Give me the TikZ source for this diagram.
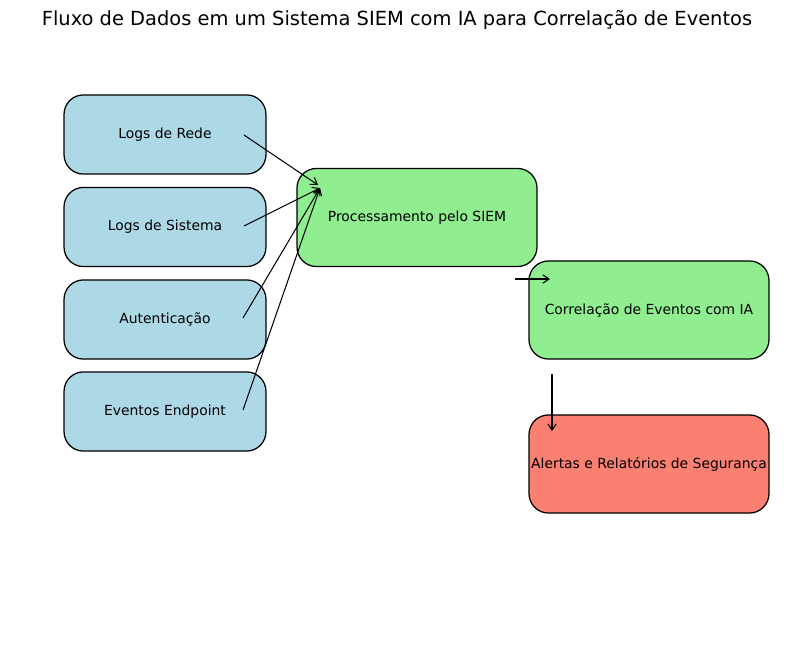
\documentclass[tikz,border=0pt]{standalone}
\usepackage{fontspec}
\setmainfont{DejaVu Sans}
\usetikzlibrary{arrows.meta}
\definecolor{lblue}{HTML}{ADD8E6}
\definecolor{lgreen}{HTML}{90EE90}
\definecolor{salmonc}{HTML}{FA8072}
\tikzset{
  box/.style={draw=black, line width=0.9pt, rounded corners=14pt, font=\fontsize{10}{12}\selectfont, inner sep=0pt, anchor=center},
  srcbox/.style={box, fill=lblue, minimum width=145.4pt, minimum height=57pt},
  bigbox/.style={box, minimum width=172.8pt, minimum height=70.6pt},
  arr/.style={-{Straight Barb[length=4.5pt,width=6pt]}, line width=0.75pt}
}
\begin{document}
\begin{tikzpicture}[x=0.72pt, y=-0.72pt]
\useasboundingbox (0,0) rectangle (794,659);
\node[font=\fontsize{14}{16}\selectfont] (title) at (397,19.5) {Fluxo de Dados em um Sistema SIEM com IA para Correlação de Eventos};
\node[srcbox] (rede) at (165,134.5) {Logs de Rede};
\node[srcbox] (sistema) at (165,227) {Logs de Sistema};
\node[srcbox] (auth) at (165,319.5) {Autenticação};
\node[srcbox] (endpoint) at (165,411.5) {Eventos Endpoint};
\node[bigbox, fill=lgreen] (siem) at (417,217.5) {Processamento pelo SIEM};
\node[bigbox, fill=lgreen] (corr) at (649,310) {Correlação de Eventos com IA};
\node[bigbox, fill=salmonc] (alert) at (649,464) {Alertas e Relatórios de Segurança};
\coordinate (s1) at (244,135);
\coordinate (s2) at (244,226);
\coordinate (s3) at (243,318);
\coordinate (s4) at (243,410);
\coordinate (t1) at (318,185);
\coordinate (t2) at (320,188);
\coordinate (p1) at (515,279);
\coordinate (p2) at (550,279);
\coordinate (c1) at (552,374);
\coordinate (c2) at (552,431);
\draw[arr] (s1) -- (t1);
\draw[arr] (s2) -- (t2);
\draw[arr] (s3) -- (t2);
\draw[arr] (s4) -- (t2);
\draw[arr] (p1) -- (p2);
\draw[arr] (c1) -- (c2);
\end{tikzpicture}
\end{document}
